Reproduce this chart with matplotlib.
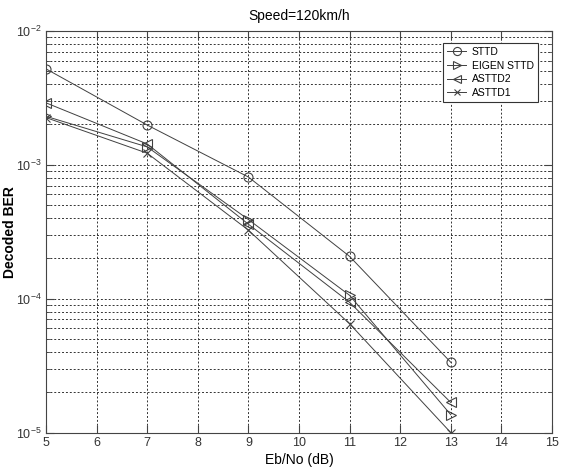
import matplotlib
matplotlib.use("Agg")
import matplotlib.pyplot as plt
from matplotlib.ticker import LogLocator, NullFormatter, FixedLocator

plt.rcParams['font.family'] = ['Liberation Sans', 'DejaVu Sans']

ebno = [5, 7, 9, 11, 13]
sttd = [5.2e-3, 1.98e-3, 8.1e-4, 2.07e-4, 3.35e-5]
eigen_sttd = [2.3e-3, 1.36e-3, 3.9e-4, 1.06e-4, 1.36e-5]
asttd2 = [2.9e-3, 1.43e-3, 3.6e-4, 9.4e-5, 1.68e-5]
asttd1 = [2.25e-3, 1.22e-3, 3.25e-4, 6.5e-5, 1.0e-5]

fig = plt.figure(figsize=(5.61, 4.67), dpi=100)
ax = fig.add_axes([0.082, 0.0735, 0.902, 0.8605])

lw = 0.7
c = '#404040'
ax.semilogy(ebno, sttd, color=c, lw=lw, marker='o', ms=6.5, mfc='none', mec=c, mew=0.8, label='STTD')
ax.semilogy(ebno, eigen_sttd, color=c, lw=lw, marker='>', ms=6.5, mfc='none', mec=c, mew=0.8, label='EIGEN STTD')
ax.semilogy(ebno, asttd2, color=c, lw=lw, marker='<', ms=6.5, mfc='none', mec=c, mew=0.8, label='ASTTD2')
ax.semilogy(ebno, asttd1, color=c, lw=lw, marker='x', ms=5.5, mfc='none', mec=c, mew=0.8, label='ASTTD1')

ax.set_xlim(5, 15)
ax.set_ylim(1e-5, 1e-2)
ax.xaxis.set_major_locator(FixedLocator(list(range(5, 16))))
ax.yaxis.set_major_locator(LogLocator(base=10))
ax.yaxis.set_minor_locator(LogLocator(base=10, subs=range(2, 10)))
ax.yaxis.set_minor_formatter(NullFormatter())

ax.grid(True, which='major', linestyle=(0, (2, 2)), color='#333333', lw=0.7)
ax.grid(True, which='minor', axis='y', linestyle=(0, (2, 2)), color='#333333', lw=0.7)
ax.tick_params(which='both', direction='in', top=True, right=True, labelsize=9, colors='#444444', labelcolor='#333333')
ax.tick_params(which='major', length=6)
ax.tick_params(which='minor', length=3)
ax.tick_params(axis='y', pad=3)
ax.tick_params(axis='x', pad=3)
for s in ax.spines.values():
    s.set_color('#444444')
    s.set_linewidth(0.8)

ax.set_title('Speed=120km/h', fontsize=10, pad=8)
ax.set_xlabel('Eb/No (dB)', fontsize=10, labelpad=3)
ax.set_ylabel('Decoded BER', fontsize=10, fontweight='bold')
ax.yaxis.set_label_coords(-0.058, 0.5)

leg = ax.legend(loc='upper right', bbox_to_anchor=(0.972, 0.970), borderaxespad=0, fontsize=7.5, frameon=True,
                fancybox=False, edgecolor='#333333', framealpha=1, handlelength=1.9, borderpad=0.4,
                labelspacing=0.35, handletextpad=0.5, markerscale=0.9)
leg.get_frame().set_linewidth(0.8)

fig.savefig('out.png', dpi=100)
